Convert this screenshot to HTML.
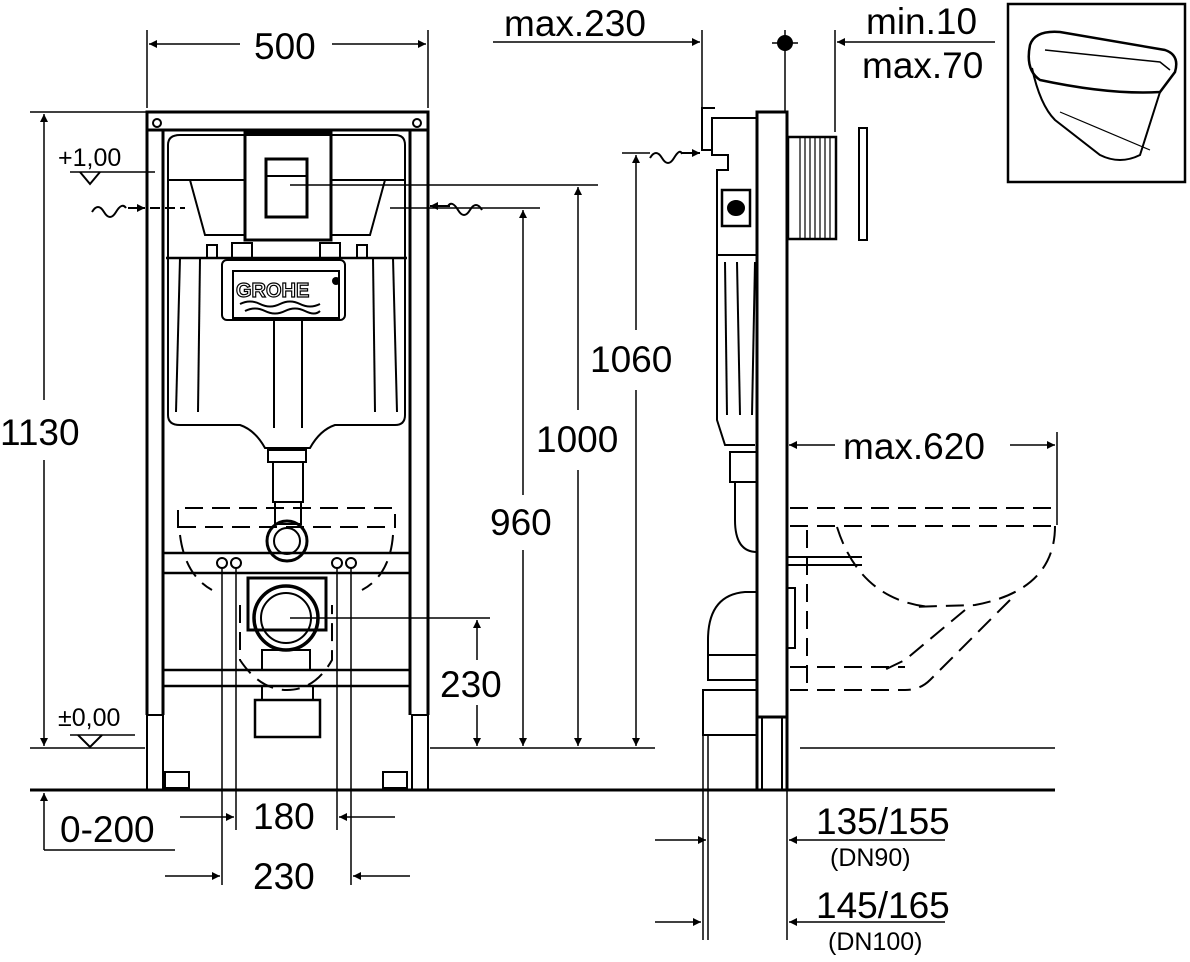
<!DOCTYPE html>
<html><head><meta charset="utf-8"><style>
html,body{margin:0;padding:0;background:#fff;}
svg{display:block}
text{font-family:"Liberation Sans",sans-serif;fill:#000}
</style></head><body>
<svg width="1190" height="962" viewBox="0 0 1190 962" xmlns="http://www.w3.org/2000/svg">
<defs>
<marker id="a" viewBox="0 0 10 10" refX="10" refY="5" markerWidth="14" markerHeight="8" markerUnits="userSpaceOnUse" orient="auto-start-reverse"><path d="M0,0L10,5L0,10z" fill="#000"/></marker>
</defs>
<g stroke="#000" fill="none" stroke-width="2">
<line x1="30" y1="790" x2="1055" y2="790" stroke-width="3"/>
<line x1="430" y1="748" x2="655" y2="748" stroke-width="1.5"/>
<line x1="800" y1="748" x2="1055" y2="748" stroke-width="1.5"/>
<line x1="30" y1="748" x2="145" y2="748" stroke-width="1.5"/>
<line x1="30" y1="112" x2="147" y2="112" stroke-width="1.5"/>
<rect x="147" y="112" width="281" height="18" stroke-width="3"/>
<line x1="147" y1="112" x2="147" y2="715" stroke-width="3"/>
<line x1="163" y1="130" x2="163" y2="715" stroke-width="3"/>
<line x1="428" y1="112" x2="428" y2="715" stroke-width="3"/>
<line x1="410" y1="130" x2="410" y2="715" stroke-width="3"/>
<rect x="147" y="715" width="16" height="75" stroke-width="2"/>
<rect x="412" y="715" width="16" height="75" stroke-width="2"/>
<rect x="165" y="772" width="24" height="16"/><rect x="383" y="772" width="24" height="16"/>
<circle cx="157" cy="123" r="4"/><circle cx="417" cy="123" r="4"/>
<path d="M168,180 L168,145 Q168,135 180,135 L395,135 Q405,135 405,145 L405,180" />
<path d="M168,180 L168,415 Q168,425 180,425 L240,425 Q255,430 265,448 L310,448 Q320,430 335,425 L395,425 Q405,425 405,415 L405,180"/>
<line x1="168" y1="180" x2="245" y2="180"/><line x1="331" y1="180" x2="405" y2="180"/>
<path d="M190,180 L205,235 L245,235"/><path d="M385,180 L370,235 L331,235"/>
<line x1="166" y1="258" x2="407" y2="258" stroke-width="2.5"/>
<rect x="245" y="133" width="86" height="107" stroke-width="3"/>
<rect x="266" y="159" width="41" height="58" stroke-width="3"/>
<line x1="266" y1="176" x2="307" y2="176"/>
<rect x="232" y="243" width="20" height="15"/><rect x="320" y="243" width="20" height="15"/>
<rect x="207" y="245" width="10" height="13"/><rect x="357" y="245" width="10" height="13"/>
<rect x="222" y="260" width="123" height="60" rx="5"/>
<rect x="233" y="271" width="106" height="47"/>
<path d="M240,304 q10,-5 20,0 t20,0 t20,0 t20,0 M245,311 q10,-5 20,0 t20,0 t20,0 t15,0" stroke-width="2"/>
<line x1="180" y1="258" x2="176" y2="412"/><line x1="200" y1="258" x2="198" y2="412"/>
<line x1="393" y1="258" x2="397" y2="412"/><line x1="373" y1="258" x2="375" y2="412"/>
<line x1="274" y1="320" x2="274" y2="428"/><line x1="302" y1="320" x2="302" y2="428"/>
<rect x="268" y="450" width="38" height="12"/>
<rect x="273" y="462" width="30" height="40"/>
<rect x="275" y="502" width="26" height="22"/>
<circle cx="287" cy="541" r="20" stroke-width="3"/><circle cx="287" cy="541" r="13"/>
<rect x="163" y="553" width="247" height="20" stroke-width="2.5"/>
<rect x="163" y="670" width="247" height="16" stroke-width="2.5"/>
<circle cx="222" cy="563" r="5"/><circle cx="236" cy="563" r="5"/><circle cx="337" cy="563" r="5"/><circle cx="351" cy="563" r="5"/>
<rect x="248" y="578" width="78" height="52" stroke-width="3"/>
<circle cx="286" cy="618" r="32" stroke-width="3.5"/>
<circle cx="286" cy="618" r="25"/>
<rect x="262" y="650" width="48" height="20"/>
<rect x="255" y="700" width="65" height="37" stroke-width="2.5"/>
<line x1="262" y1="686" x2="262" y2="700"/><line x1="313" y1="686" x2="313" y2="700"/>
<g stroke-dasharray="18,9">
<path d="M178,528 L178,508 L395,508 L395,528"/>
<line x1="178" y1="527" x2="395" y2="527"/>
<path d="M180,535 Q185,575 212,590"/><path d="M393,535 Q390,575 362,590"/>
<path d="M240,605 L240,660 Q260,690 287,690 Q315,690 332,660 L332,605"/>
</g>
<line x1="222" y1="568" x2="222" y2="885" stroke-width="1.5"/>
<line x1="236" y1="568" x2="236" y2="830" stroke-width="1.5"/>
<line x1="337" y1="568" x2="337" y2="830" stroke-width="1.5"/>
<line x1="351" y1="568" x2="351" y2="885" stroke-width="1.5"/>
<line x1="180" y1="817" x2="234" y2="817" stroke-width="1.5" marker-end="url(#a)"/>
<line x1="395" y1="817" x2="339" y2="817" stroke-width="1.5" marker-end="url(#a)"/>
<line x1="165" y1="876" x2="220" y2="876" stroke-width="1.5" marker-end="url(#a)"/>
<line x1="410" y1="876" x2="353" y2="876" stroke-width="1.5" marker-end="url(#a)"/>
<line x1="147" y1="30" x2="147" y2="108" stroke-width="1.5"/>
<line x1="428" y1="30" x2="428" y2="108" stroke-width="1.5"/>
<line x1="240" y1="44" x2="149" y2="44" stroke-width="1.5" marker-end="url(#a)"/>
<line x1="332" y1="44" x2="426" y2="44" stroke-width="1.5" marker-end="url(#a)"/>
<line x1="44" y1="400" x2="44" y2="114" stroke-width="1.5" marker-end="url(#a)"/>
<line x1="44" y1="460" x2="44" y2="746" stroke-width="1.5" marker-end="url(#a)"/>
<line x1="44" y1="850" x2="44" y2="793" stroke-width="1.5" marker-end="url(#a)"/>
<line x1="44" y1="850" x2="175" y2="850" stroke-width="1.5"/>
<line x1="70" y1="172" x2="155" y2="172" stroke-width="1.5"/><path d="M80,172 L90,184 L100,172" />
<line x1="70" y1="735" x2="135" y2="735" stroke-width="1.5"/><path d="M78,735 L90,747 L102,735"/>
<path d="M92,212 q6,-10 12,0 t12,0 t10,-4" /><line x1="128" y1="208" x2="145" y2="208" marker-end="url(#a)"/>
<line x1="150" y1="208" x2="185" y2="208" stroke-dasharray="10,5"/>
<path d="M482,210 q-6,-10 -12,0 t-12,0 t-10,-4"/><line x1="450" y1="206" x2="430" y2="206" marker-end="url(#a)"/>
<line x1="390" y1="208" x2="540" y2="208" stroke-width="1.5"/>
<line x1="290" y1="185" x2="598" y2="185" stroke-width="1.5"/>
<line x1="290" y1="618" x2="490" y2="618" stroke-width="1.5"/>
<line x1="477" y1="660" x2="477" y2="620" stroke-width="1.5" marker-end="url(#a)"/>
<line x1="477" y1="705" x2="477" y2="746" stroke-width="1.5" marker-end="url(#a)"/>
<line x1="523" y1="495" x2="523" y2="210" stroke-width="1.5" marker-end="url(#a)"/>
<line x1="523" y1="550" x2="523" y2="746" stroke-width="1.5" marker-end="url(#a)"/>
<line x1="578" y1="410" x2="578" y2="187" stroke-width="1.5" marker-end="url(#a)"/>
<line x1="578" y1="470" x2="578" y2="746" stroke-width="1.5" marker-end="url(#a)"/>
<line x1="636" y1="330" x2="636" y2="155" stroke-width="1.5" marker-end="url(#a)"/>
<line x1="636" y1="390" x2="636" y2="746" stroke-width="1.5" marker-end="url(#a)"/>
<rect x="757" y="112" width="30" height="605" stroke-width="3"/>
<line x1="757" y1="717" x2="757" y2="790" stroke-width="3"/><line x1="787" y1="717" x2="787" y2="790" stroke-width="3"/>
<line x1="762" y1="717" x2="762" y2="790"/><line x1="782" y1="717" x2="782" y2="790"/>
<rect x="788" y="137" width="48" height="102" stroke-width="2.5"/>
<g stroke-width="1.2"><line x1="800" y1="137" x2="800" y2="239"/><line x1="805" y1="137" x2="805" y2="239"/><line x1="810" y1="137" x2="810" y2="239"/><line x1="815" y1="137" x2="815" y2="239"/><line x1="820" y1="137" x2="820" y2="239"/><line x1="825" y1="137" x2="825" y2="239"/><line x1="830" y1="137" x2="830" y2="239"/></g>
<rect x="859" y="128" width="8" height="112" stroke-width="2"/>
<path d="M757,118 L712,118 L712,155 L728,155 L728,170 L717,170 L717,420 L725,445 L755,445"/>
<line x1="717" y1="255" x2="757" y2="255"/>
<rect x="722" y="190" width="28" height="36" stroke-width="2.5"/><ellipse cx="736" cy="208" rx="8" ry="7" fill="#000"/>
<line x1="725" y1="262" x2="727" y2="415"/><line x1="737" y1="262" x2="740" y2="415"/><line x1="755" y1="262" x2="752" y2="415"/>
<rect x="730" y="452" width="27" height="30"/>
<path d="M735,482 L735,520 Q735,552 757,552"/>
<path d="M757,592 L745,592 Q708,595 708,640 L708,655 L757,655"/>
<rect x="708" y="655" width="49" height="25"/>
<rect x="703" y="690" width="54" height="45"/>
<rect x="787" y="588" width="8" height="60"/>
<line x1="787" y1="557" x2="862" y2="557"/><line x1="787" y1="565" x2="862" y2="565"/>
<path d="M712,150 L702,150 L702,108 L715,108"/>
<line x1="702" y1="30" x2="702" y2="108" stroke-width="1.5"/>
<path d="M650,158 q6,-10 12,0 t12,0 t8,-4"/><line x1="682" y1="153" x2="700" y2="153" marker-end="url(#a)"/>
<line x1="622" y1="153" x2="650" y2="153" stroke-width="1.5"/>
<g stroke-dasharray="18,9" stroke-width="2">
<line x1="790" y1="508" x2="1055" y2="508"/>
<line x1="790" y1="526" x2="1055" y2="526"/>
<path d="M1055,526 Q1055,590 975,605 L910,607"/>
<path d="M837,527 Q860,600 930,607"/>
<path d="M965,610 L905,660 L880,672"/>
<path d="M1010,600 L930,680 Q920,690 905,690"/>
<line x1="790" y1="667" x2="905" y2="667"/>
<line x1="790" y1="690" x2="905" y2="690"/>
<line x1="807" y1="530" x2="807" y2="690"/>
</g>
<line x1="1057" y1="432" x2="1057" y2="525" stroke-width="1.5"/>
<line x1="835" y1="445" x2="789" y2="445" stroke-width="1.5" marker-end="url(#a)"/>
<line x1="1010" y1="445" x2="1055" y2="445" stroke-width="1.5" marker-end="url(#a)"/>
<line x1="493" y1="42" x2="700" y2="42" stroke-width="1.5" marker-end="url(#a)"/>
<line x1="785" y1="30" x2="785" y2="112" stroke-width="1.5"/>
<line x1="835" y1="30" x2="835" y2="132" stroke-width="1.5"/>
<line x1="995" y1="42" x2="837" y2="42" stroke-width="1.5" marker-end="url(#a)"/>
<circle cx="785" cy="43" r="7" fill="#000"/>
<line x1="772" y1="43" x2="798" y2="43" stroke-width="1.5"/>
<line x1="708" y1="735" x2="708" y2="940" stroke-width="1.5"/>
<line x1="703" y1="735" x2="703" y2="940" stroke-width="1.5"/>
<line x1="787" y1="790" x2="787" y2="940" stroke-width="1.5"/>
<line x1="655" y1="840" x2="706" y2="840" stroke-width="1.5" marker-end="url(#a)"/>
<line x1="830" y1="840" x2="789" y2="840" stroke-width="1.5" marker-end="url(#a)"/>
<line x1="830" y1="840" x2="945" y2="840" stroke-width="1.5"/>
<line x1="655" y1="922" x2="701" y2="922" stroke-width="1.5" marker-end="url(#a)"/>
<line x1="830" y1="922" x2="789" y2="922" stroke-width="1.5" marker-end="url(#a)"/>
<line x1="830" y1="922" x2="945" y2="922" stroke-width="1.5"/>
<rect x="1008" y="4" width="177" height="178" stroke-width="2.5"/>
<path d="M1030,45 Q1035,30 1060,32 L1165,50 Q1180,55 1175,72 L1160,92 Q1110,95 1040,80 Q1025,70 1030,45 Z" stroke-width="2.5"/>
<path d="M1045,50 L1160,62 L1170,70" stroke-width="1.5"/>
<path d="M1032,68 Q1040,105 1055,120 L1100,155 Q1120,165 1140,155 L1160,92" stroke-width="2"/>
<path d="M1060,112 L1150,150" stroke-width="1.2"/>
</g>
<g font-size="37">
<text x="254" y="59">500</text>
<text x="504" y="36">max.230</text>
<text x="866" y="34">min.10</text>
<text x="862" y="78">max.70</text>
<text x="0" y="445">1130</text>
<text x="590" y="372">1060</text>
<text x="536" y="452">1000</text>
<text x="490" y="535">960</text>
<text x="440" y="697">230</text>
<text x="843" y="459">max.620</text>
<text x="60" y="842">0-200</text>
<text x="253" y="829">180</text>
<text x="253" y="889">230</text>
<text x="816" y="834">135/155</text>
<text x="816" y="918">145/165</text>
</g>
<g font-size="25">
<text x="58" y="166">+1,00</text>
<text x="58" y="726">±0,00</text>
<text x="830" y="866">(DN90)</text>
<text x="828" y="950">(DN100)</text>
</g>
<text x="236" y="297" font-size="20" font-weight="bold" stroke="#000" stroke-width="1.2" style="fill:#fff">GROHE</text>
<circle cx="336" cy="281" r="4"/>
</svg>
</body></html>
